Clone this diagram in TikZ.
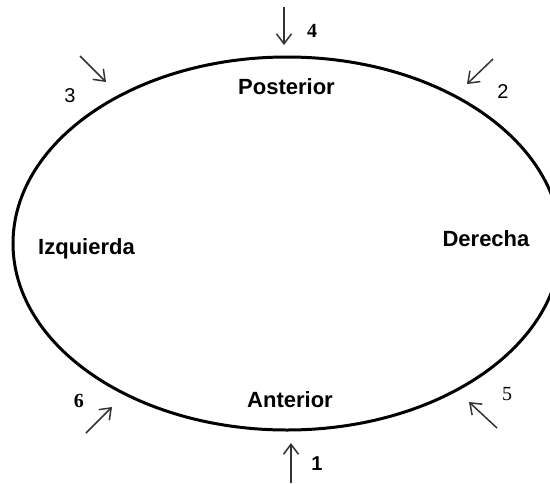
\documentclass[tikz,border=0pt]{standalone}
\usepackage{fontspec}
\setmainfont{Liberation Sans}
\newfontfamily\numserif{Liberation Serif}
\usetikzlibrary{arrows.meta,shapes.geometric}

\begin{document}
\begin{tikzpicture}[
  x=1pt, y=-1pt,
  rim/.style={draw, ellipse, line width=3pt, minimum width=548pt,
    minimum height=373pt, inner sep=0pt},
  side/.style={font=\fontsize{22}{22}\selectfont\bfseries, anchor=base,
    inner sep=0pt},
  num/.style={font=\fontsize{20}{20}\selectfont, anchor=base, inner sep=0pt},
  arr/.style={-{Straight Barb[length=10pt, width=15pt, line width=1.5pt]},
    line width=1.5pt, draw=black!80}
]
\useasboundingbox (0,0) rectangle (550,483);
\clip (0,0) rectangle (550,483);

% ── The outline ───────────────────────────────────────────────────────────
\node[rim] (rim) at (287,243.5) {};

\node[side] (post) at (286.5,94) {Posterior};
\node[side] (ant) at (290,407) {Anterior};
\node[side] (izq) at (86.5,254) {Izquierda};
\node[side] (der) at (486,246.5) {Derecha};

% ── Incoming arrows and their numbers ─────────────────────────────────────
\coordinate (s1) at (291,483); \coordinate (t1) at (291,443);
\coordinate (s2) at (493,59);  \coordinate (t2) at (467,84);
\coordinate (s3) at (80,56);   \coordinate (t3) at (106,82);
\coordinate (s4) at (284,7);   \coordinate (t4) at (284,45);
\coordinate (s5) at (497,428); \coordinate (t5) at (469,402);
\coordinate (s6) at (86,433);  \coordinate (t6) at (112,407);

\foreach \i in {1,...,6}
  \draw[arr] (s\i) -- (t\i);

\node[num, font=\fontsize{20}{20}\selectfont\bfseries] (n1) at (317,470) {1};
\node[num] (n2) at (503,98) {2};
\node[num] (n3) at (70,102) {3};
\node[num, font=\fontsize{20}{20}\selectfont\numserif\bfseries] (n4) at (312,37) {4};
\node[num, font=\fontsize{20}{20}\selectfont\numserif] (n5) at (507,400) {5};
\node[num, font=\fontsize{20}{20}\selectfont\numserif\bfseries] (n6) at (79,407) {6};

\end{tikzpicture}
\end{document}
